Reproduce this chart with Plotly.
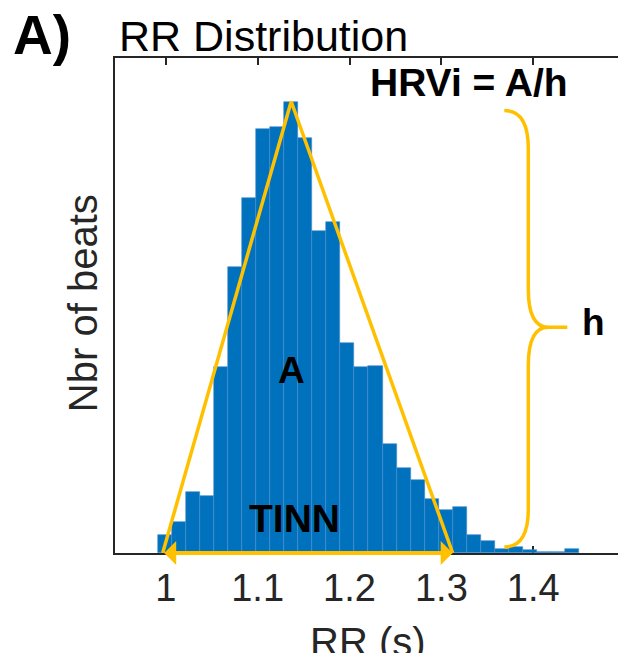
import plotly.graph_objects as go

# ---- data ----
bin_left = 0.9913
bin_width = 0.01529
counts = [12, 21, 41, 38, 124, 191, 237, 283, 284, 301, 277, 215, 221, 140, 124,
          125, 73, 57, 49, 36, 29, 31, 12, 8, 3, 4, 2, 1, 1, 3]
tinn_n = 0.9967
tinn_m = 1.3123
tick_vals = [1, 1.1, 1.2, 1.3, 1.4]
tick_text = ["1", "1.1", "1.2", "1.3", "1.4"]

centers = [bin_left + (i + 0.5) * bin_width for i in range(len(counts))]
peak = max(counts)
peak_x = centers[counts.index(peak)]

GOLD = "#FFC000"
BLUE = "#0072BD"
AX = "#262626"
FONT = "Liberation Sans, Arial, sans-serif"

xr = [0.9448, 1.4922]
yr = [0, 330]

fig = go.Figure()
fig.add_trace(go.Bar(x=centers, y=counts, width=bin_width,
                     marker=dict(color=BLUE, line=dict(color="rgba(70,140,205,1)", width=0.6)),
                     hoverinfo="skip"))
fig.add_trace(go.Scatter(x=[tinn_n, peak_x, tinn_m], y=[0, peak, 0], mode="lines",
                         line=dict(color=GOLD, width=3.5), hoverinfo="skip"))

# double arrow TINN
fig.add_annotation(x=tinn_m, y=0, ax=tinn_n, ay=0, axref="x", ayref="y", xref="x", yref="y",
                   text="", showarrow=True, arrowside="end+start", arrowhead=1, startarrowhead=1,
                   arrowwidth=4, arrowsize=1.0, startarrowsize=1.0, arrowcolor=GOLD, standoff=0, startstandoff=0)

# brace for h
sx = 0.1 / 91.9
sy = 1 / 1.5
xv = 1.3946
xe = xv - 24 * sx
xm = xv + 20 * sx
xt = xv + 39 * sx
yt = peak - 6
yb = 4
ym = peak / 2
r = 38 * sy
path = (f"M{xe},{yt} Q{xv},{yt} {xv},{yt - r} L{xv},{ym + r} Q{xv},{ym} {xm},{ym} L{xt},{ym} "
        f"M{xm},{ym} Q{xv},{ym} {xv},{ym - r} L{xv},{yb + r} Q{xv},{yb} {xe},{yb}")
fig.add_shape(type="path", path=path, xref="x", yref="y", line=dict(color=GOLD, width=3.5))

bold = dict(family=FONT, size=37, color="black", weight="bold")
fig.add_annotation(x=1.3295, y=313.5, xref="x", yref="y", text="<b>HRVi = A/h</b>", showarrow=False,
                   font=dict(family=FONT, size=39, color="black"))
fig.add_annotation(x=1.1371, y=122, xref="x", yref="y", text="<b>A</b>", showarrow=False, font=bold)
fig.add_annotation(x=1.1404, y=23, xref="x", yref="y", text="<b>TINN</b>", showarrow=False,
                   font=dict(family=FONT, size=39, color="black"))
fig.add_annotation(x=1.466, y=153.7, xref="x", yref="y", text="<b>h</b>", showarrow=False, font=bold)

# panel label and title
fig.add_annotation(x=-0.2068, y=1.0465, xref="paper", yref="paper", xanchor="left", yanchor="middle",
                   text="<b>A)</b>", showarrow=False, font=dict(family=FONT, size=55, color="black"))
fig.add_annotation(x=0.004, y=1.0445, xref="paper", yref="paper", xanchor="left", yanchor="middle",
                   text="RR Distribution", showarrow=False, font=dict(family=FONT, size=43, color="black"))
# axis titles
fig.add_annotation(x=-0.0634, y=0.505, xref="paper", yref="paper", xanchor="center", yanchor="middle",
                   text="Nbr of beats", textangle=-90, showarrow=False, font=dict(family=FONT, size=40, color=AX))
fig.add_annotation(x=0.502, y=-0.1804, xref="paper", yref="paper", xanchor="center", yanchor="middle",
                   text="RR (s)", showarrow=False, font=dict(family=FONT, size=40, color=AX))

fig.update_layout(
    width=618, height=653, margin=dict(l=115, r=0, t=58, b=100, pad=0),
    paper_bgcolor="white", plot_bgcolor="white", showlegend=False, bargap=0,
    xaxis=dict(range=xr, tickvals=tick_vals, ticktext=tick_text, ticks="inside", ticklen=7,
               tickwidth=1.5, tickcolor=AX, showline=True, linewidth=2, linecolor=AX, mirror="ticks",
               showgrid=False, zeroline=False, layer="below traces",
               tickfont=dict(family=FONT, size=38, color=AX)),
    yaxis=dict(range=yr, showticklabels=False, ticks="", showline=True, linewidth=2, linecolor=AX,
               showgrid=False, zeroline=False, layer="below traces"),
)

fig.write_html("out.html", config={"displayModeBar": False},
               post_script="document.body.style.margin='0';document.body.style.overflow='hidden';")
